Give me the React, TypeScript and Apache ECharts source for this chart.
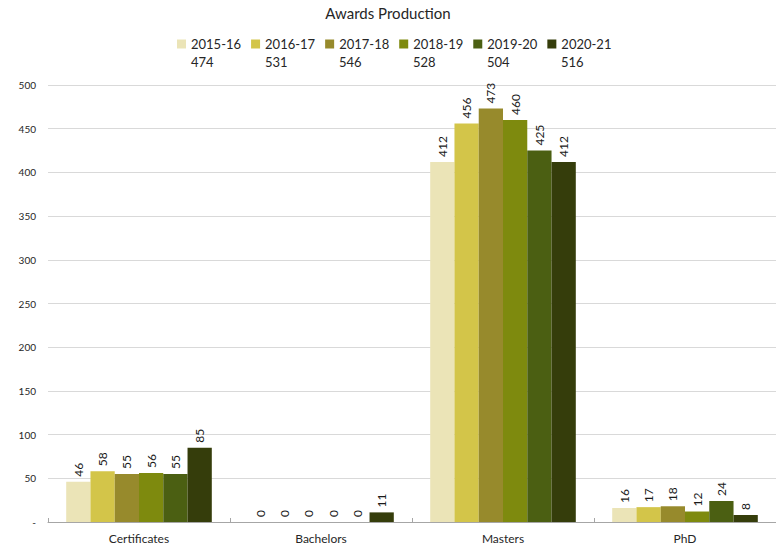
import React, { useEffect, useRef } from "react";
import * as echarts from "echarts";

const categories = ["Certificates", "Bachelors", "Masters", "PhD"];
const years = ["2015-16", "2016-17", "2017-18", "2018-19", "2019-20", "2020-21"];
const v2015 = [46, 0, 412, 16];
const v2016 = [58, 0, 456, 17];
const v2017 = [55, 0, 473, 18];
const v2018 = [56, 0, 460, 12];
const v2019 = [55, 0, 425, 24];
const v2020 = [85, 11, 412, 8];
const seriesValues = [v2015, v2016, v2017, v2018, v2019, v2020];
const colors = ["#EBE4B7", "#D3C549", "#978A2C", "#7E8A0E", "#4B5F12", "#353D0B"];
const yTicks = { min: 0, max: 500, interval: 50 };

const FONT = "Lato, 'Open Sans', sans-serif";

export default function App() {
  const ref = useRef<HTMLDivElement>(null);
  useEffect(() => {
    if (!ref.current) return;
    const chart = echarts.init(ref.current, undefined, { renderer: "svg" });
    const totals: Record<string, number> = {};
    years.forEach((y, i) => {
      totals[y] = seriesValues[i].reduce((a, b) => a + b, 0);
    });
    const legendText = {
      fontFamily: FONT,
      fontSize: 13,
      color: "#262626",
      lineHeight: 14,
      width: 50,
    };
    chart.setOption({
      animation: false,
      backgroundColor: "#ffffff",
      textStyle: { fontFamily: FONT },
      title: {
        text: "Awards Production",
        left: "center",
        top: 0,
        textStyle: { fontFamily: FONT, fontSize: 15, fontWeight: "normal", color: "#262626" },
      },
      legend: [
        {
          top: 32,
          left: 172,
          itemWidth: 9,
          itemHeight: 9,
          itemGap: 10,
          icon: "rect",
          data: years,
          selectedMode: false,
          textStyle: legendText,
        },
        {
          top: 50,
          left: 172,
          itemWidth: 9,
          itemHeight: 9,
          itemGap: 10,
          icon: "rect",
          data: years,
          selectedMode: false,
          itemStyle: { opacity: 0 },
          formatter: (name: string) => String(totals[name]),
          textStyle: legendText,
        },
      ],
      grid: { left: 48, right: 0, top: 85, bottom: 25, containLabel: false },
      xAxis: {
        type: "category",
        data: categories,
        axisLine: { show: true, lineStyle: { color: "#a6a6a6" } },
        axisTick: { show: true, inside: true, length: 4, lineStyle: { color: "#a6a6a6" } },
        axisLabel: { fontFamily: FONT, fontSize: 12, color: "#262626", margin: 10 },
      },
      yAxis: {
        type: "value",
        min: yTicks.min,
        max: yTicks.max,
        interval: yTicks.interval,
        axisLine: { show: false },
        axisTick: { show: false },
        splitLine: { lineStyle: { color: "#d9d9d9" } },
        axisLabel: {
          fontFamily: FONT,
          fontSize: 10,
          color: "#262626",
          margin: 12,
          formatter: (v: number) => (v === 0 ? "-" : String(v)),
        },
      },
      series: years.map((y, i) => ({
        name: y,
        type: "bar",
        data: seriesValues[i],
        barGap: "0%",
        barCategoryGap: "20%",
        itemStyle: { color: colors[i] },
        label: {
          show: true,
          position: "top",
          rotate: 90,
          align: "left",
          verticalAlign: "middle",
          distance: 5,
          fontFamily: FONT,
          fontSize: 12,
          color: "#1a1a1a",
        },
      })),
    });
    return () => chart.dispose();
  }, []);
  return (
    <div
      ref={ref}
      style={{ position: "fixed", left: 0, top: 0, width: 776, height: 547 }}
    />
  );
}
